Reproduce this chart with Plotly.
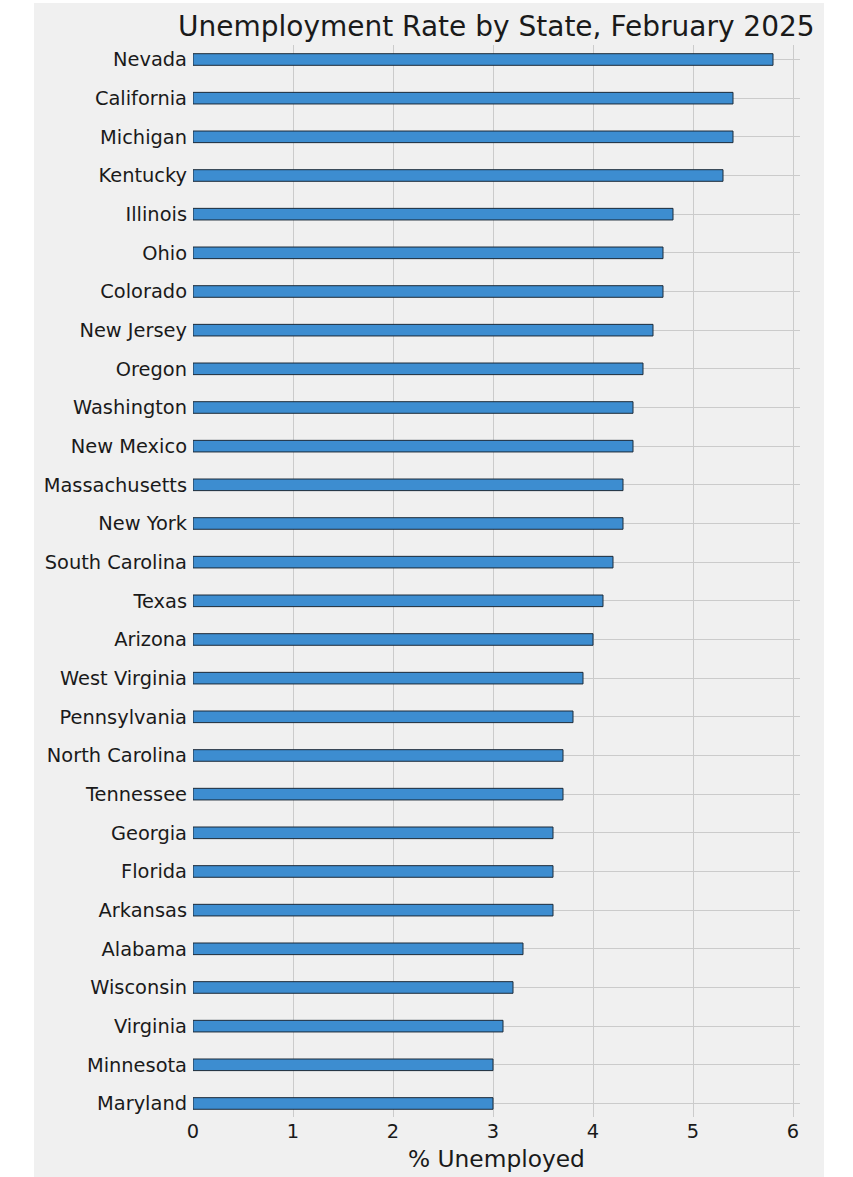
import plotly.graph_objects as go

states = ["Nevada", "California", "Michigan", "Kentucky", "Illinois", "Ohio", "Colorado",
          "New Jersey", "Oregon", "Washington", "New Mexico", "Massachusetts", "New York",
          "South Carolina", "Texas", "Arizona", "West Virginia", "Pennsylvania",
          "North Carolina", "Tennessee", "Georgia", "Florida", "Arkansas", "Alabama",
          "Wisconsin", "Virginia", "Minnesota", "Maryland"]
rates = [5.8, 5.4, 5.4, 5.3, 4.8, 4.7, 4.7, 4.6, 4.5, 4.4, 4.4, 4.3, 4.3, 4.2, 4.1, 4.0,
         3.9, 3.8, 3.7, 3.7, 3.6, 3.6, 3.6, 3.3, 3.2, 3.1, 3.0, 3.0]
x_ticks = [0, 1, 2, 3, 4, 5, 6]

title = "Unemployment Rate by State, February 2025"
xlabel = "% Unemployed"

W, H = 853, 1177
L, R, T, B = 193, 800, 45, 1117
pw, ph = R - L, B - T

FONT = "DejaVu Sans"
TXT = "#1a1a1a"

fig = go.Figure()
fig.add_trace(go.Bar(
    x=rates, y=states, orientation="h", width=0.3,
    marker=dict(color="#3d8dd0", line=dict(color="#1c2a38", width=1)),
))

fig.update_layout(
    width=W, height=H,
    margin=dict(l=L, r=W - R, t=T, b=H - B, pad=0),
    paper_bgcolor="white",
    plot_bgcolor="rgba(0,0,0,0)",
    showlegend=False,
    font=dict(family=FONT, color=TXT, size=19.4),
    xaxis=dict(
        range=[0, 6.07], tickvals=x_ticks, ticktext=[str(v) for v in x_ticks],
        showgrid=True, gridcolor="#cbcbcb", gridwidth=1.4,
        zeroline=False, showline=False, ticks="", ticklabelstandoff=1,
        tickfont=dict(family=FONT, size=19.4, color=TXT),
    ),
    yaxis=dict(
        type="category", categoryorder="array", categoryarray=states,
        range=[27.35, -0.375],
        showgrid=True, gridcolor="#cbcbcb", gridwidth=1.4,
        zeroline=False, showline=False, ticks="", ticklabelstandoff=5,
        tickfont=dict(family=FONT, size=19.4, color=TXT),
    ),
    shapes=[dict(
        type="rect", xref="paper", yref="paper", layer="below",
        x0=(34 - L) / pw, x1=(824 - L) / pw,
        y0=(B - 1177) / ph, y1=(B - 3) / ph,
        fillcolor="#f0f0f0", line=dict(width=0),
    )],
    annotations=[
        dict(text=title, xref="paper", yref="paper", x=0.5, y=(B - 26.5) / ph,
             xanchor="center", yanchor="middle", showarrow=False,
             font=dict(family=FONT, size=28, color=TXT)),
        dict(text=xlabel, xref="paper", yref="paper", x=0.5, y=(B - 1158.5) / ph,
             xanchor="center", yanchor="middle", showarrow=False,
             font=dict(family=FONT, size=23.3, color=TXT)),
    ],
)

fig.write_html("out.html")
